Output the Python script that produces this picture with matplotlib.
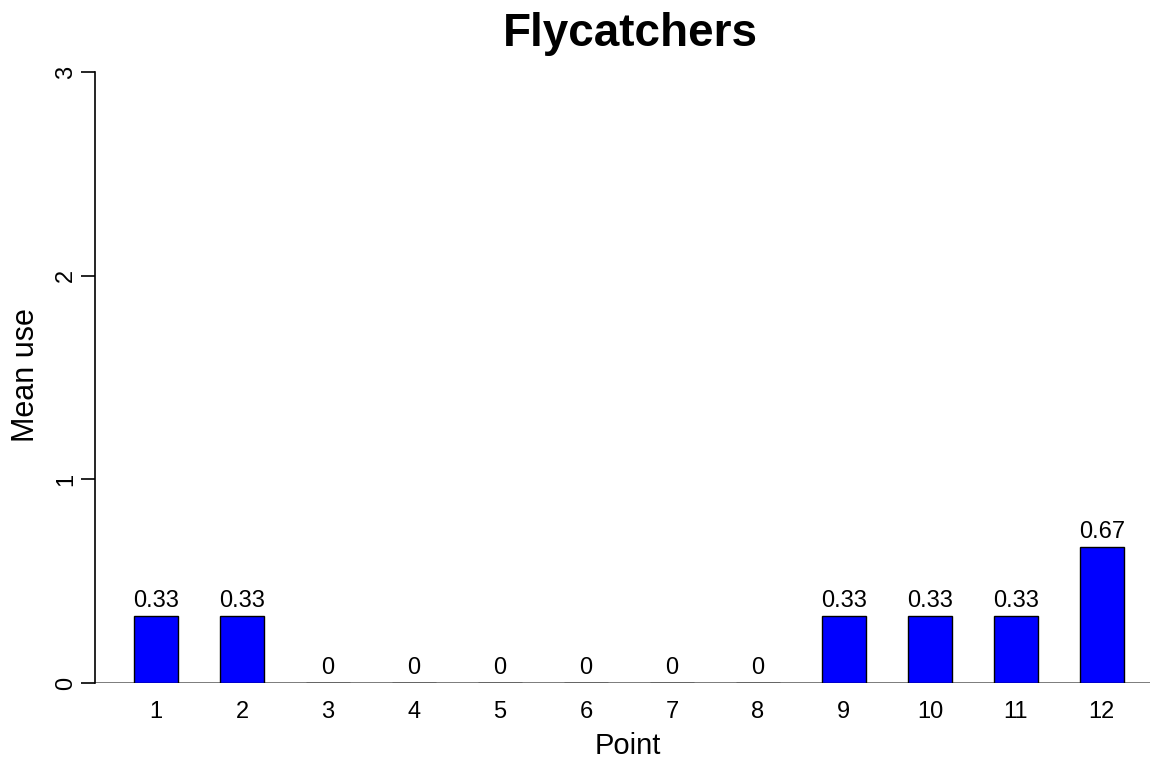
import numpy as np
import matplotlib.pyplot as plt

plt.rcParams['font.family'] = ['Liberation Sans', 'DejaVu Sans']

# data
points = [1, 2, 3, 4, 5, 6, 7, 8, 9, 10, 11, 12]
mean_use = [0.33, 0.33, 0, 0, 0, 0, 0, 0, 0.33, 0.33, 0.33, 0.67]
labels = ['0.33', '0.33', '0', '0', '0', '0', '0', '0', '0.33', '0.33', '0.33', '0.67']

W, H = 1156, 759
fig = plt.figure(figsize=(W / 100, H / 100), dpi=100)
# axes box in pixels: left 95, right 1150, top 72, bottom 683
ax = fig.add_axes([95 / W, 1 - 683 / H, (1150 - 95) / W, (683 - 72) / H])

x = np.array(points)
ax.bar(x, mean_use, width=0.51, color='#0000ff', edgecolor='black', linewidth=1.0, zorder=3)
for xi, v, lab in zip(x, mean_use, labels):
    ax.text(xi, v + 0.018, lab, ha='center', va='bottom', fontsize=17)

ax.set_xlim(0.29, 12.56)
ax.set_ylim(0, 3)
ax.axhline(0, color='#666666', linewidth=1.2, zorder=2)

for s in ['top', 'right', 'bottom']:
    ax.spines[s].set_visible(False)
ax.spines['left'].set_linewidth(1.2)

ax.set_yticks([0, 1, 2, 3])
ax.set_yticklabels(['0', '1', '2', '3'], rotation=90, va='center', fontsize=17)
ax.tick_params(axis='y', length=10, width=1.2, pad=3)
ax.set_xticks(x)
ax.set_xticklabels([str(p) for p in points], fontsize=17)
ax.tick_params(axis='x', length=0, pad=13)

fig.text(628 / W, 1 - 754 / H, 'Point', ha='center', va='baseline', fontsize=21)
fig.text(26 / W, 1 - 375 / H, 'Mean use', ha='center', va='center', rotation=90, fontsize=22)
fig.text(630 / W, 1 - 34 / H, 'Flycatchers', ha='center', va='center', fontsize=33, fontweight='bold')

fig.savefig('out.png', dpi=100)
